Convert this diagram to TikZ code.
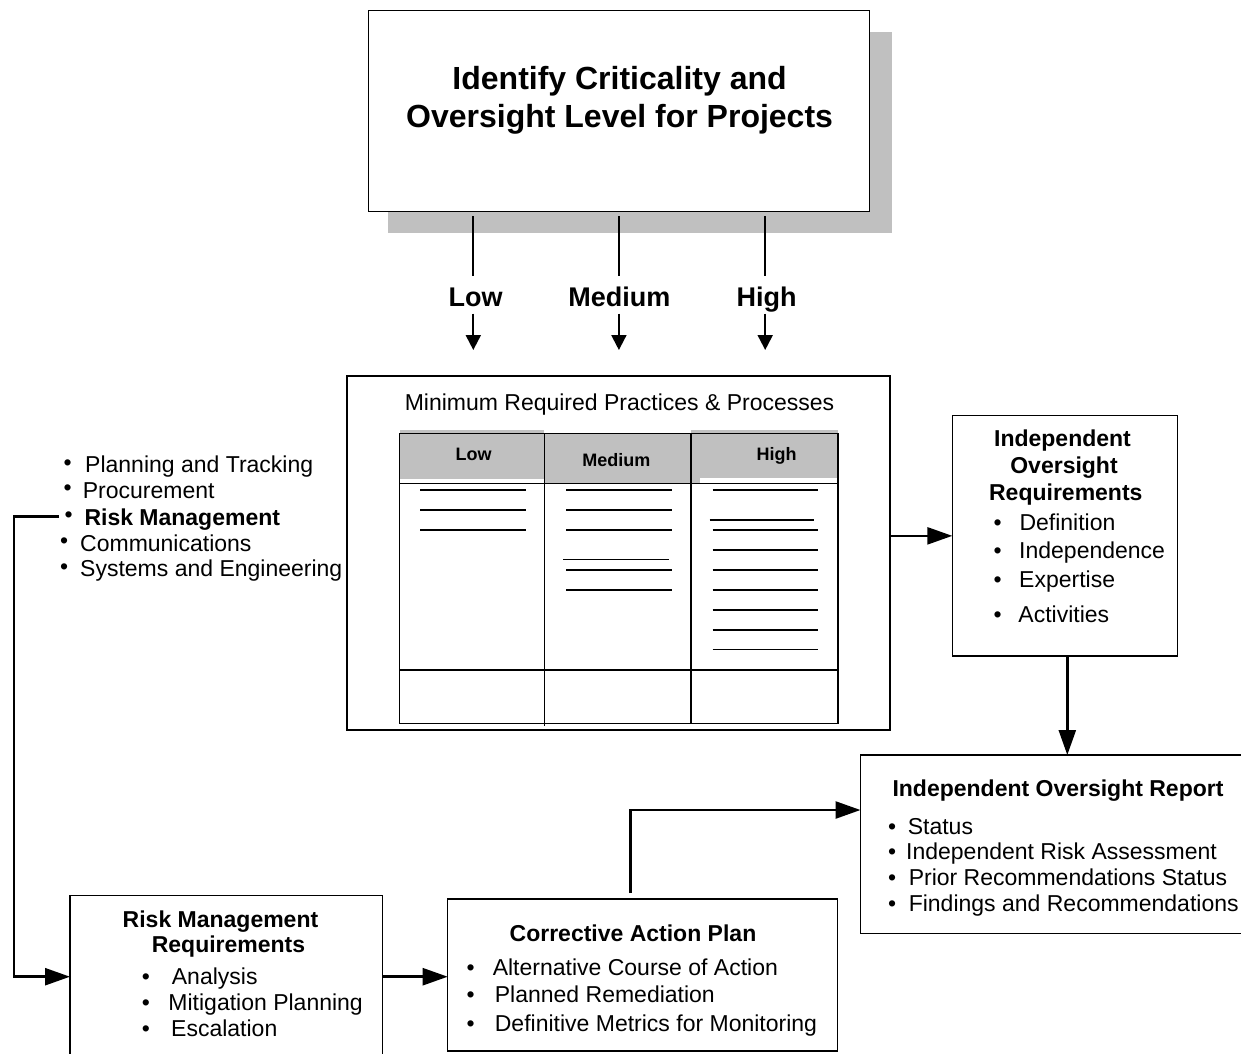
\documentclass[tikz,border=0pt]{standalone}
\usepackage{fontspec}
\setmainfont{Liberation Sans}
\usetikzlibrary{arrows.meta}
\definecolor{shadegray}{HTML}{C0C0C0}
\newcommand{\blt}[3][2.5pt]{\makebox[#2][l]{\raisebox{#1}{•}}#3}
\begin{document}
\begin{tikzpicture}[x=1pt,y=-1pt,
  box/.style={draw, line width=1.5pt, inner sep=0pt, outer sep=0pt, anchor=north west, fill=white},
  rt/.style={inner sep=0pt, anchor=base west, font=\fontsize{23}{27}\selectfont},
  bt/.style={inner sep=0pt, anchor=base, font=\bfseries\fontsize{23}{27}\selectfont},
  ttl/.style={inner sep=0pt, anchor=base, font=\bfseries\fontsize{32}{38}\selectfont},
  lvl/.style={inner sep=0pt, anchor=base, font=\bfseries\fontsize{27}{32}\selectfont, text height=19.5pt, text depth=0pt},
  hd/.style={inner sep=0pt, anchor=base, font=\bfseries\fontsize{18}{22}\selectfont},
  arr/.style={line width=2.5pt, -{Triangle[length=25pt,width=17pt]}},
  stem/.style={line width=2pt},
  stemarr/.style={line width=2pt, -{Triangle[length=15pt,width=15pt]}},
  rule/.style={line width=1.3pt},
  grid/.style={line width=1.5pt},
]
\useasboundingbox (0,0) rectangle (1241,1053);

% top box with shadow
\fill[shadegray] (388,32) rectangle (892,232.7);
\node[box, minimum width=501pt, minimum height=201pt] (top) at (368.5,10.7) {};
\node[ttl] (t1) at (619.6,89.3) {Identify Criticality and};
\node[ttl] (t2) at (619.6,127.7) {Oversight Level for Projects};

% level labels
\node[lvl] (lL) at (475.7,306) {Low};
\node[lvl] (lM) at (619.3,306) {Medium};
\node[lvl] (lH) at (766.5,306) {High};
\coordinate (xL) at (473.3,0);
\coordinate (xM) at (618.9,0);
\coordinate (xH) at (765.2,0);

% middle box
\node[box, line width=2.7pt, minimum width=543pt, minimum height=354pt] (mid) at (347,376) {};
\node[rt, anchor=base] (mtitle) at (619.5,410.7) {Minimum Required Practices \& Processes};

% stems
\foreach \c/\l in {xL/lL, xM/lM, xH/lH}{
  \draw[stem, shorten <=4.3pt, shorten >=10.5pt] (\c |- top.south) -- (\c |- \l.north);
  \draw[stemarr, shorten <=7.3pt, shorten >=26pt] (\c |- \l.south) -- (\c |- mid.north);
}

% table
\fill[shadegray] (399.6,430) rectangle (544.3,479.3);
\fill[shadegray] (544.3,433.3) rectangle (691,483.3);
\fill[shadegray] (691,430) rectangle (700,483.3);
\fill[shadegray] (700,430) rectangle (838.2,478.3);
\draw[grid] (399.6,433.3) rectangle (838.2,723.3);
\draw[grid] (399.6,483.3) -- (838.2,483.3);
\draw[grid] (399.6,670) -- (838.2,670);
\draw[grid] (544.3,433.3) -- (544.3,726);
\draw[grid] (691,433.3) -- (691,723.3);
\node[hd] (hL) at (473.6,460) {Low};
\node[hd] (hM) at (616.4,466.7) {Medium};
\node[hd] (hH) at (776.6,460.7) {High};
\foreach \y in {490,510,530} \draw[rule] (420,\y) -- (526,\y);
\foreach \y in {490,510,530,570,590} \draw[rule] (566,\y) -- (672,\y);
\draw[rule] (563,559.3) -- (669,559.3);
\foreach \y in {490,530,550,570,590,610,630,649.3} \draw[rule] (712.5,\y) -- (817.5,\y);
\draw[rule] (709.6,520) -- (814,520);

% left list
\node[rt] (p1) at (63.3,472.7) {\blt{21.7pt}{Planning and Tracking}};
\node[rt] (p2) at (63.3,498.3) {\blt{19.4pt}{Procurement}};
\node[rt] (rk) at (64.3,525) {\blt{20pt}{\bfseries Risk Management}};
\node[rt] (p4) at (60,551) {\blt{20pt}{Communications}};
\node[rt] (p5) at (60,576.7) {\blt{20pt}{Systems and Engineering}};

% Independent Oversight Requirements
\node[box, minimum width=225.4pt, minimum height=240.3pt] (ior) at (952.3,415.7) {};
\node[bt] (i1) at (1062.5,446.7) {Independent};
\node[bt] (i2) at (1064,473.3) {Oversight};
\node[bt] (i3) at (1065.8,500.7) {Requirements};
\node[rt] (i4) at (993.3,530.7) {\blt[0pt]{26pt}{Definition}};
\node[rt] (i5) at (993.3,558.3) {\blt[0pt]{25.7pt}{Independence}};
\node[rt] (i6) at (993.3,587.3) {\blt[0pt]{25.7pt}{Expertise}};
\node[rt] (i7) at (993.3,622.3) {\blt[0pt]{25pt}{Activities}};

% Independent Oversight Report
\node[box, minimum width=383pt, minimum height=178.3pt] (rep) at (860.5,755) {};
\node[bt] (r0) at (1058,796) {Independent Oversight Report};
\node[rt] (r1) at (888,834) {\blt[0pt]{19.6pt}{Status}};
\node[rt] (r2) at (888,859.3) {\blt[0pt]{18pt}{Independent Risk Assessment}};
\node[rt] (r3) at (888,885.7) {\blt[0pt]{20.6pt}{Prior Recommendations Status}};
\node[rt] (r4) at (888,911.7) {\blt[0pt]{20.6pt}{Findings and Recommendations}};

% Risk Management Requirements
\node[box, minimum width=312.7pt, minimum height=180pt] (rmr) at (70,895.7) {};
\node[bt] (m1) at (220.5,927.3) {Risk Management};
\node[bt] (m2) at (228.5,952.3) {Requirements};
\node[rt] (m3) at (141.6,984) {\blt[0pt]{30.1pt}{Analysis}};
\node[rt] (m4) at (141.6,1010.7) {\blt[0pt]{26.7pt}{Mitigation Planning}};
\node[rt] (m5) at (141.6,1036.7) {\blt[0pt]{29.4pt}{Escalation}};

% Corrective Action Plan
\node[box, minimum width=389.8pt, minimum height=152pt] (cap) at (447.7,899) {};
\node[bt] (c0) at (633,941) {Corrective Action Plan};
\node[rt] (c1) at (466.3,975) {\blt[0pt]{26.3pt}{Alternative Course of Action}};
\node[rt] (c2) at (466.3,1002.7) {\blt[0pt]{28.4pt}{Planned Remediation}};
\node[rt] (c3) at (466.3,1031.7) {\blt[0pt]{28.4pt}{Definitive Metrics for Monitoring}};

% connectors
\draw[arr] (mid.east |- ior.west) -- (ior.west);
\draw[arr] ([xshift=2.3pt]ior.south) -- ([xshift=2.3pt]ior.south |- rep.north);
\draw[arr] ([xshift=-5.3pt,yshift=8.3pt]rk.base west) -- ++(-45,0) |- ([yshift=-81pt]rmr.north west);
\draw[arr] ([yshift=-81pt]rmr.north east) -- ([yshift=-81pt]rmr.north east -| cap.west);
\draw[arr] ([xshift=-12pt,yshift=6pt]cap.north) |- ([yshift=-55pt]rep.north west);
\end{tikzpicture}
\end{document}
